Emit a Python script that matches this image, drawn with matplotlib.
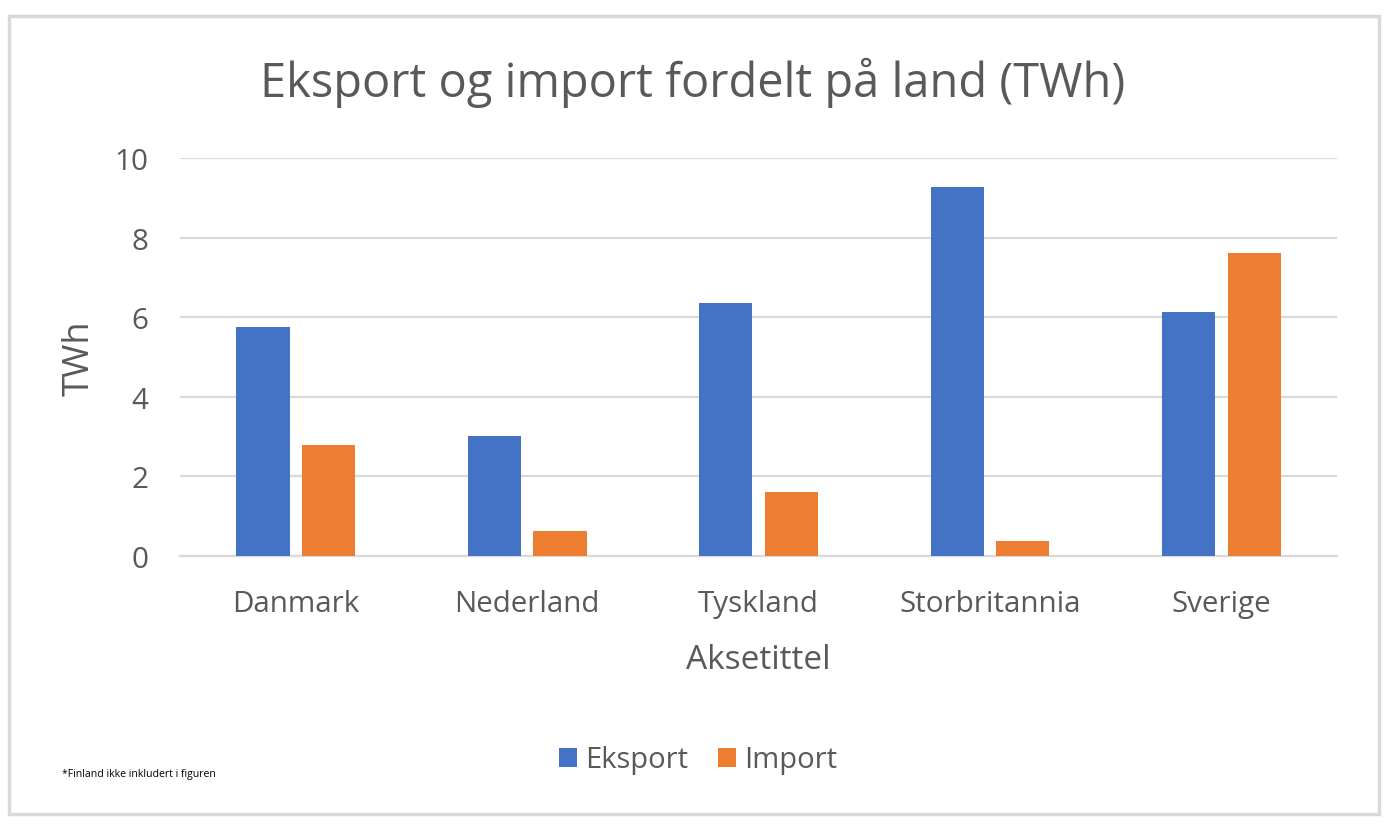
import numpy as np
import matplotlib.pyplot as plt
from matplotlib.patches import Rectangle

plt.rcParams['font.family'] = ['Open Sans', 'DejaVu Sans']

# data
countries = ['Danmark', 'Nederland', 'Tyskland', 'Storbritannia', 'Sverige']
eksport = [5.75, 3.01, 6.36, 9.27, 6.13]
importt = [2.80, 0.62, 1.61, 0.38, 7.61]
yticks = [0, 2, 4, 6, 8, 10]

blue = '#4472c4'
orange = '#ed7d31'
grey = '#595959'
gridc = '#d9d9d9'

fig = plt.figure(figsize=(13.88, 8.28), dpi=100)
ax = fig.add_axes([0.1297, 0.3273, 0.8336, 0.4807])

x = np.arange(len(countries))
w = 0.23
off = 0.1416
ax.bar(x - off, eksport, w, color=blue, label='Eksport', zorder=3)
ax.bar(x + off, importt, w, color=orange, label='Import', zorder=3)

ax.set_xlim(-0.5, len(countries) - 0.5)
ax.set_ylim(0, 10)
ax.set_yticks(yticks)
ax.set_xticks(x)
ax.set_xticklabels(countries)
ax.tick_params(axis='both', length=0, labelsize=21.3, colors=grey)
ax.tick_params(axis='x', pad=24)
ax.tick_params(axis='y', pad=23)
ax.grid(axis='y', color=gridc, linewidth=1.6, zorder=0)
for s in ['top', 'left', 'right']:
    ax.spines[s].set_visible(False)
ax.spines['bottom'].set_color(gridc)
ax.spines['bottom'].set_linewidth(1.6)

ax.set_ylabel('TWh', fontsize=26, color=grey, labelpad=12)
ax.set_xlabel('Aksetittel', fontsize=24, color=grey, labelpad=18)

fig.text(0.4993, 0.9, 'Eksport og import fordelt på land (TWh)',
         ha='center', va='center', fontsize=33.8, color=grey)

fig.legend(loc='center', bbox_to_anchor=(0.503, 0.081), ncol=2, frameon=False,
           fontsize=21, labelcolor=grey, handlelength=0.62, handleheight=0.62,
           handletextpad=0.3, columnspacing=1.0)

fig.text(0.045, 0.0645, '*Finland ikke inkludert i figuren', fontsize=7.6, color='black',
         ha='left', va='center')

# outer frame
fig.patches.append(Rectangle((0.0065, 0.016), 0.987, 0.963, transform=fig.transFigure,
                             fill=False, edgecolor=gridc, linewidth=2.5))

fig.savefig('out.png', dpi=100, facecolor='white')
